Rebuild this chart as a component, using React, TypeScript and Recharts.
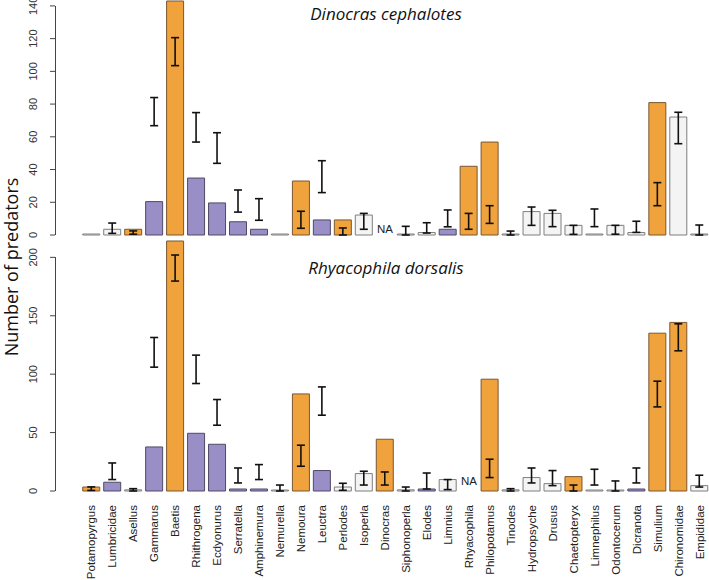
import { BarChart, Bar, XAxis, YAxis, Cell, ErrorBar, ReferenceDot } from 'recharts';

const taxa = [
  'Potamopyrgus', 'Lumbricidae', 'Asellus', 'Gammarus', 'Baetis', 'Rhithrogena', 'Ecdyonurus',
  'Serratella', 'Amphinemura', 'Nemurella', 'Nemoura', 'Leuctra', 'Perlodes', 'Isoperla',
  'Dinocras', 'Siphonoperla', 'Elodes', 'Limnius', 'Rhyacophila', 'Philopotamus', 'Tinodes',
  'Hydropsyche', 'Drusus', 'Chaetopteryx', 'Limnephilus', 'Odontocerum', 'Dicranota',
  'Simulium', 'Chironomidae', 'Empididae',
];

// Dinocras cephalotes panel
const dinocrasValues = [0, 3.5, 3.5, 20.4, 143, 34.8, 19.6, 8.1, 3.5, 0, 33, 9.2, 9.2, 12.2, null, 0, 1.5, 3.5, 42, 56.8, 0, 14.3, 13.2, 5.9, 0, 5.9, 1.5, 80.9, 72.1, 0];
const dinocrasLow = [null, 1, 0.5, 66.8, 103.5, 56.8, 43.8, 14, 9, null, 4.1, 25.9, 0, 3.5, null, 0, 1.2, 5, 3.5, 7.1, 0, 5.9, 5.1, 0.4, 5.1, 0.5, 1.6, 17.9, 55.8, 0];
const dinocrasHigh = [null, 7.3, 2.5, 84, 120.6, 74.8, 62.5, 27.5, 22.2, null, 14.5, 45.4, 4.3, 13.2, null, 5.3, 7.5, 15.3, 13.2, 17.9, 2.4, 17.1, 15.1, 5.9, 15.9, 5.9, 8.4, 32, 75, 6.1];
const dinocrasGroups = ['w', 'w', 'o', 'p', 'o', 'p', 'p', 'p', 'p', 'w', 'o', 'p', 'o', 'w', 'w', 'w', 'w', 'p', 'o', 'o', 'w', 'w', 'w', 'w', 'w', 'w', 'w', 'o', 'w', 'w'];

// Rhyacophila dorsalis panel
const rhyacoValues = [3.4, 7.5, 1, 37.7, 214, 49.4, 40, 1.7, 1.7, 0, 83.1, 17.5, 3.4, 14.9, 44.3, 1, 1.7, 9.8, null, 95.7, 1, 11.5, 6.3, 12.3, 0, 0, 1.7, 135.1, 144.3, 4.6];
const rhyacoLow = [0.5, 9.8, 0, 106, 179.7, 92, 56.3, 6.9, 9.8, 0, 21.2, 64.9, 0.6, 5.1, 5.1, 0, 1.7, 1.2, null, 11.5, 0, 6.9, 4.6, 0, 5.1, 0, 6.9, 72, 120, 3.4];
const rhyacoHigh = [3.5, 24, 2, 131.4, 202, 116.3, 78.3, 19.7, 22.6, 5.1, 39.2, 89.1, 6.6, 16.9, 16.3, 3.4, 15.4, 9.8, null, 27.2, 2, 19.7, 17.5, 5.1, 18.6, 8.6, 19.7, 94, 143.1, 13.5];
const rhyacoGroups = ['o', 'p', 'w', 'p', 'o', 'p', 'p', 'p', 'p', 'w', 'o', 'p', 'w', 'w', 'o', 'w', 'p', 'w', 'w', 'o', 'w', 'w', 'w', 'o', 'w', 'w', 'p', 'o', 'o', 'w'];

const dinocrasTicks = [0, 20, 40, 60, 80, 100, 120, 140];
const rhyacoTicks = [0, 50, 100, 150, 200];

const fills: Record<string, string> = { o: '#F0A23C', p: '#9A8EC6', w: '#F4F4F4' };
const strokes: Record<string, string> = { o: '#7A5733', p: '#4E4A66', w: '#7E7E7E' };

const FONT = '"Liberation Sans", Arial, sans-serif';
const AXIS_COLOR = '#444';
const Y_AXIS_W = 55;

interface PanelProps {
  values: (number | null)[];
  lows: (number | null)[];
  highs: (number | null)[];
  groups: string[];
  ticks: number[];
  height: number;
  top: number;
  marginTop: number;
  marginBottom: number;
  xAxisHeight: number;
  showLabels: boolean;
  naOffset: number;
}

const YTick = (props: any) => {
  const { x, y, payload } = props;
  const cx = Number(x);
  const cy = Number(y);
  return (
    <g>
      <line x1={cx - 5} x2={cx} y1={cy} y2={cy} stroke={AXIS_COLOR} strokeWidth={1} />
      <text
        x={cx - 22}
        y={cy}
        transform={`rotate(-90 ${cx - 22} ${cy})`}
        textAnchor="middle"
        dy="0.35em"
        fontSize={11}
        fontFamily={FONT}
        fill="#333"
      >
        {payload.value}
      </text>
    </g>
  );
};

const XTick = (props: any) => {
  const { x, y, payload } = props;
  const tx = Number(x);
  const ty = Number(y) + 14;
  return (
    <text
      x={tx}
      y={ty}
      transform={`rotate(-90 ${tx} ${ty})`}
      textAnchor="end"
      dy="0.35em"
      fontSize={11.5}
      fontFamily={FONT}
      fill="#222"
    >
      {payload.value}
    </text>
  );
};

function Panel({ values, lows, highs, groups, ticks, height, top, marginTop, marginBottom, xAxisHeight, showLabels, naOffset }: PanelProps) {
  const rows = taxa.map((taxon, i) => {
    const v = values[i];
    const lo = lows[i];
    const hi = highs[i];
    return {
      taxon,
      v,
      err: v == null || lo == null || hi == null ? null : [v - lo, hi - v],
    };
  });
  const domainMax = Math.max(...values.map((v) => v ?? 0), ...highs.map((v) => v ?? 0));
  const plotH = height - marginTop - marginBottom - xAxisHeight;
  // axis line only runs from 0 up to the last tick, as in base R
  const lineLen = (plotH * ticks[ticks.length - 1]) / domainMax;
  const baseY = marginTop + plotH;
  const naTaxon = taxa[values.findIndex((v) => v == null)];

  return (
    <div style={{ position: 'absolute', left: 0, top, width: 710, height }}>
      <BarChart
        width={710}
        height={height}
        data={rows}
        margin={{ top: marginTop, right: 0, bottom: marginBottom, left: 0 }}
        barCategoryGap="8.3%"
      >
        <XAxis
          dataKey="taxon"
          hide={!showLabels}
          interval={0}
          padding={{ left: 26, right: 0 }}
          axisLine={false}
          tickLine={false}
          tickSize={0}
          tickMargin={0}
          height={xAxisHeight}
          tick={<XTick />}
        />
        <YAxis
          type="number"
          domain={[0, domainMax]}
          ticks={ticks}
          interval={0}
          width={Y_AXIS_W}
          axisLine={false}
          tickLine={false}
          tickSize={0}
          tickMargin={0}
          tick={<YTick />}
        />
        <Bar
          dataKey="v"
          isAnimationActive={false}
          strokeWidth={1}
          minPointSize={(value: any) => (value == null ? 0 : 1)}
        >
          {rows.map((r, i) => (
            <Cell key={r.taxon} fill={fills[groups[i]]} stroke={strokes[groups[i]]} />
          ))}
          <ErrorBar dataKey="err" direction="y" width={4} stroke="#111" strokeWidth={1.6} isAnimationActive={false} />
        </Bar>
        <ReferenceDot
          x={naTaxon}
          y={0}
          r={0}
          fill="none"
          stroke="none"
          ifOverflow="visible"
          label={{ value: 'NA', position: 'top', offset: naOffset, fontSize: 11.5, fontFamily: FONT, fill: '#222' }}
        />
      </BarChart>
      <div
        style={{
          position: 'absolute',
          left: Y_AXIS_W - 0.5,
          top: baseY - lineLen,
          width: 1.5,
          height: lineLen,
          background: AXIS_COLOR,
          pointerEvents: 'none',
        }}
      />
    </div>
  );
}

export default function App() {
  return (
    <div style={{ position: 'absolute', left: 0, top: 0, width: 709, height: 580, overflow: 'hidden', background: '#fff' }}>
      <Panel
        values={dinocrasValues}
        lows={dinocrasLow}
        highs={dinocrasHigh}
        groups={dinocrasGroups}
        ticks={dinocrasTicks}
        height={240}
        top={0}
        marginTop={1}
        marginBottom={5}
        xAxisHeight={0}
        showLabels={false}
        naOffset={2}
      />
      <Panel
        values={rhyacoValues}
        lows={rhyacoLow}
        highs={rhyacoHigh}
        groups={rhyacoGroups}
        ticks={rhyacoTicks}
        height={343}
        top={238}
        marginTop={3}
        marginBottom={1}
        xAxisHeight={89}
        showLabels={true}
        naOffset={6}
      />
      <svg width={709} height={580} style={{ position: 'absolute', left: 0, top: 0, pointerEvents: 'none' }}>
        <text
          x={11}
          y={267}
          transform="rotate(-90 11 267)"
          textAnchor="middle"
          dominantBaseline="central"
          fontSize={18}
          fontFamily='"Open Sans", sans-serif'
          fill="#111"
        >
          Number of predators
        </text>
        <text x={386} y={20} textAnchor="middle" fontSize={17} fontStyle="italic" fontFamily='"Open Sans", sans-serif' fill="#111">
          Dinocras cephalotes
        </text>
        <text x={386} y={274} textAnchor="middle" fontSize={17} fontStyle="italic" fontFamily='"Open Sans", sans-serif' fill="#111">
          Rhyacophila dorsalis
        </text>
      </svg>
    </div>
  );
}
